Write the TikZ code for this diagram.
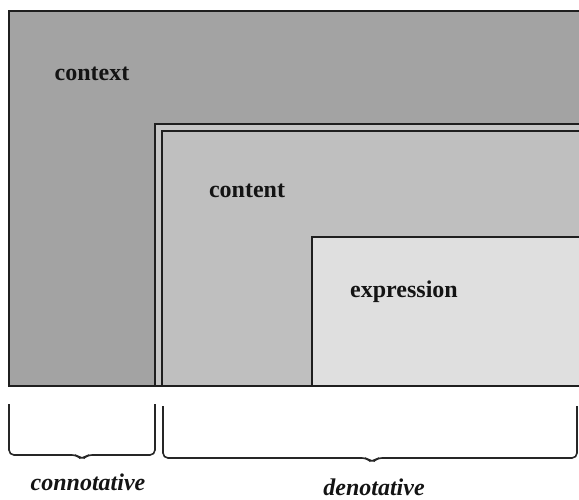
\documentclass[tikz,border=0pt]{standalone}
\usepackage{fontspec}
\setmainfont{Liberation Serif}
\begin{document}
\begin{tikzpicture}[x=1pt,y=-1pt,
  frame/.style={draw=black!88,line width=1.9pt},
  brace/.style={draw=black!85,line width=1.6pt,rounded corners=5pt},
  boxlabel/.style={font=\fontsize{24}{27}\selectfont\bfseries,text=black!92,inner sep=1pt},
  sidelabel/.style={font=\fontsize{24}{27}\selectfont\bfseries\itshape,text=black!92,inner sep=1pt}]
\definecolor{ctxgray}{HTML}{A3A3A3}
\definecolor{cntgray}{HTML}{BFBFBF}
\definecolor{gapgray}{HTML}{C6C6C6}
\definecolor{expgray}{HTML}{DFDFDF}
\useasboundingbox (0,0) rectangle (579,499);
\begin{scope}
\clip (0,0) rectangle (579,499);
% context box (open to the right)
\fill[ctxgray] (9,11) rectangle (585,386);
% content box with doubled edge
\fill[gapgray] (155,124) rectangle (585,386);
\fill[cntgray] (162,131) rectangle (585,386);
% expression box
\fill[expgray] (312,237) rectangle (585,386);
\draw[frame] (585,11) -- (9,11) -- (9,386) -- (585,386);
\draw[frame] (155,386) -- (155,124) -- (585,124);
\draw[frame] (162,386) -- (162,131) -- (585,131);
\draw[frame] (312,386) -- (312,237) -- (585,237);
\end{scope}
\node[boxlabel] (ctx) at (92,74) {context};
\node[boxlabel] (cnt) at (247,191) {content};
\node[boxlabel] (exp) at (404,292) {expression};
% braces under the boxes
\draw[brace] (9,404) -- (9,455) -- (77,455) -- (82,460) -- (87,455) -- (155,455) -- (155,404);
\draw[brace] (163,406) -- (163,458) -- (367,458) -- (372,463) -- (377,458) -- (577,458) -- (577,406);
\node[sidelabel] (con) at (88,482) {connotative};
\node[sidelabel] (den) at (374,487) {denotative};
\end{tikzpicture}
\end{document}
